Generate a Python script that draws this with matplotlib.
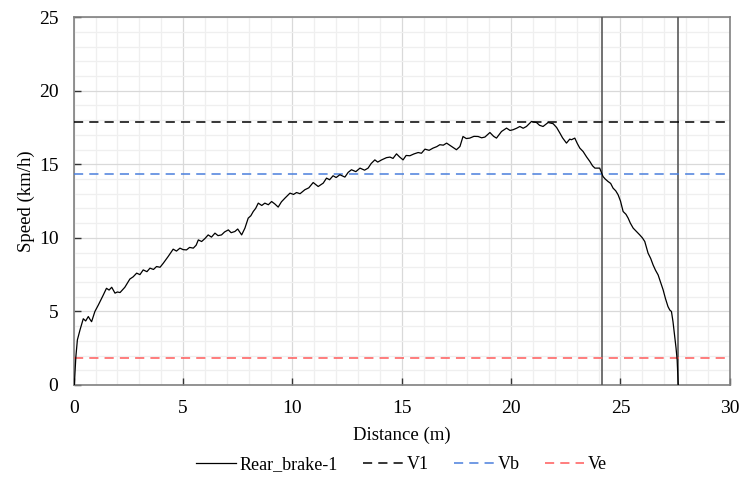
import matplotlib
matplotlib.use('Agg')
import matplotlib.pyplot as plt
from matplotlib.ticker import MultipleLocator

# data
dist = [0.03, 0.1, 0.17, 0.29, 0.44, 0.55, 0.67, 0.75, 0.82, 0.97, 1.13, 1.35, 1.5, 1.62, 1.74,
        1.89, 2.0, 2.12, 2.34, 2.57, 2.72, 2.88, 3.03, 3.18, 3.35, 3.49, 3.65, 3.79, 3.95, 4.1,
        4.32, 4.55, 4.7, 4.86, 5.0, 5.16, 5.3, 5.47, 5.6, 5.7, 5.85, 6.0, 6.15, 6.3, 6.46, 6.6,
        6.76, 6.9, 7.07, 7.2, 7.37, 7.5, 7.68, 7.83, 7.98, 8.1, 8.21, 8.32, 8.44, 8.6, 8.74, 8.9,
        9.05, 9.2, 9.35, 9.5, 9.66, 9.89, 10.05, 10.19, 10.35, 10.57, 10.75, 10.95, 11.18, 11.41,
        11.56, 11.7, 11.86, 12.0, 12.17, 12.4, 12.55, 12.7, 12.9, 13.09, 13.3, 13.46, 13.6, 13.77,
        13.9, 14.08, 14.3, 14.46, 14.6, 14.76, 14.9, 15.06, 15.2, 15.37, 15.55, 15.75, 15.9,
        16.06, 16.25, 16.43, 16.6, 16.74, 16.9, 17.05, 17.28, 17.5, 17.66, 17.8, 17.95, 18.11,
        18.3, 18.49, 18.65, 18.8, 19.03, 19.2, 19.33, 19.56, 19.79, 19.95, 20.09, 20.25, 20.4,
        20.55, 20.7, 20.93, 21.16, 21.3, 21.46, 21.69, 21.92, 22.08, 22.23, 22.35, 22.53, 22.68,
        22.76, 22.91, 23.03, 23.14, 23.29, 23.45, 23.6, 23.72, 23.83, 24.05, 24.2, 24.3, 24.43,
        24.55, 24.66, 24.78, 24.89, 25.0, 25.12, 25.25, 25.35, 25.45, 25.58, 25.75, 25.88, 26.0,
        26.11, 26.26, 26.38, 26.49, 26.6, 26.72, 26.85, 26.95, 27.05, 27.17, 27.25, 27.33, 27.4,
        27.48, 27.54, 27.59, 27.63, 27.64]
speed = [0.0, 1.9, 3.06, 3.74, 4.5, 4.35, 4.65, 4.45, 4.3, 4.99, 5.44, 6.1, 6.57, 6.45, 6.64,
         6.24, 6.32, 6.28, 6.64, 7.2, 7.35, 7.6, 7.5, 7.82, 7.7, 7.94, 7.85, 8.05, 8.0, 8.28,
         8.73, 9.23, 9.1, 9.3, 9.2, 9.18, 9.35, 9.3, 9.5, 9.86, 9.75, 9.95, 10.2, 10.05, 10.32,
         10.15, 10.2, 10.4, 10.54, 10.35, 10.43, 10.6, 10.2, 10.66, 11.34, 11.5, 11.79, 12.0,
         12.36, 12.2, 12.36, 12.25, 12.47, 12.3, 12.09, 12.45, 12.7, 13.04, 12.95, 13.08, 13.0,
         13.27, 13.4, 13.76, 13.49, 13.72, 14.06, 13.95, 14.22, 14.1, 14.29, 14.13, 14.45, 14.63,
         14.5, 14.74, 14.6, 14.74, 15.05, 15.3, 15.15, 15.3, 15.45, 15.49, 15.4, 15.71, 15.5, 15.3,
         15.6, 15.58, 15.7, 15.8, 15.75, 16.03, 15.95, 16.1, 16.2, 16.33, 16.3, 16.44, 16.21, 15.99,
         16.21, 16.89, 16.75, 16.78, 16.9, 16.89, 16.8, 16.85, 17.16, 16.9, 16.78, 17.23, 17.46,
         17.3, 17.35, 17.45, 17.57, 17.45, 17.57, 17.91, 17.84, 17.65, 17.57, 17.84, 17.76, 17.5,
         17.12, 16.8, 16.44, 16.71, 16.67, 16.78, 16.4, 16.1, 15.87, 15.5, 15.19, 14.9, 14.74,
         14.74, 14.17, 14.0, 13.83, 13.7, 13.38, 13.2, 12.93, 12.5, 11.79, 11.6, 11.34, 11.0,
         10.66, 10.4, 10.2, 10.0, 9.75, 8.96, 8.6, 8.16, 7.8, 7.48, 6.9, 6.46, 5.9, 5.33, 5.1,
         4.99, 4.3, 3.29, 2.5, 1.7, 0.34, 0.0]

v1 = 17.9
vb = 14.33
ve = 1.8
x_marks = [24.16, 27.63]

plt.rcParams['font.family'] = ['Liberation Serif', 'DejaVu Serif']
plt.rcParams['font.size'] = 13

fig = plt.figure(figsize=(7.44, 4.91), dpi=100)
ax = fig.add_axes([0.099, 0.216, 0.882, 0.749])

ax.xaxis.set_major_locator(MultipleLocator(5))
ax.yaxis.set_major_locator(MultipleLocator(5))
ax.xaxis.set_minor_locator(MultipleLocator(1))
ax.yaxis.set_minor_locator(MultipleLocator(1))
ax.grid(which='minor', color='#efefef', lw=0.9)
ax.grid(which='major', color='#d9d9d9', lw=0.9)
ax.set_axisbelow(True)

for xv in x_marks:
    ax.axvline(xv, color='#595959', lw=1.2, zorder=3)

ax.plot(dist, speed, color='black', lw=0.9, label='Rear_brake-1', zorder=4)
ax.axhline(v1, color='black', lw=1.1, ls=(0, (6, 4)), label='V1', zorder=3)
ax.axhline(vb, color='#4a7fdc', lw=1.1, ls=(0, (6, 4)), label='Vb', zorder=3)
ax.axhline(ve, color='#ff5a5a', lw=1.1, ls=(0, (6, 4)), label='Ve', zorder=3)

ax.set_xlim(0, 30)
ax.set_ylim(0, 25)
ax.set_xlabel('Distance (m)', fontsize=13.5, labelpad=7)
ax.set_ylabel('Speed (km/h)', fontsize=13.5, labelpad=3)

ax.tick_params(which='major', direction='in', length=5, width=1, color='#333333',
               labelsize=14, pad=11)
ax.tick_params(which='minor', length=0)
for s in ax.spines.values():
    s.set_color('#808080')
    s.set_linewidth(1.2)

ax.legend(loc='upper center', bbox_to_anchor=(0.5, -0.15), ncol=4, frameon=False,
          handlelength=2.2, handletextpad=0.2, columnspacing=1.4)

fig.savefig('out.png', dpi=100)
